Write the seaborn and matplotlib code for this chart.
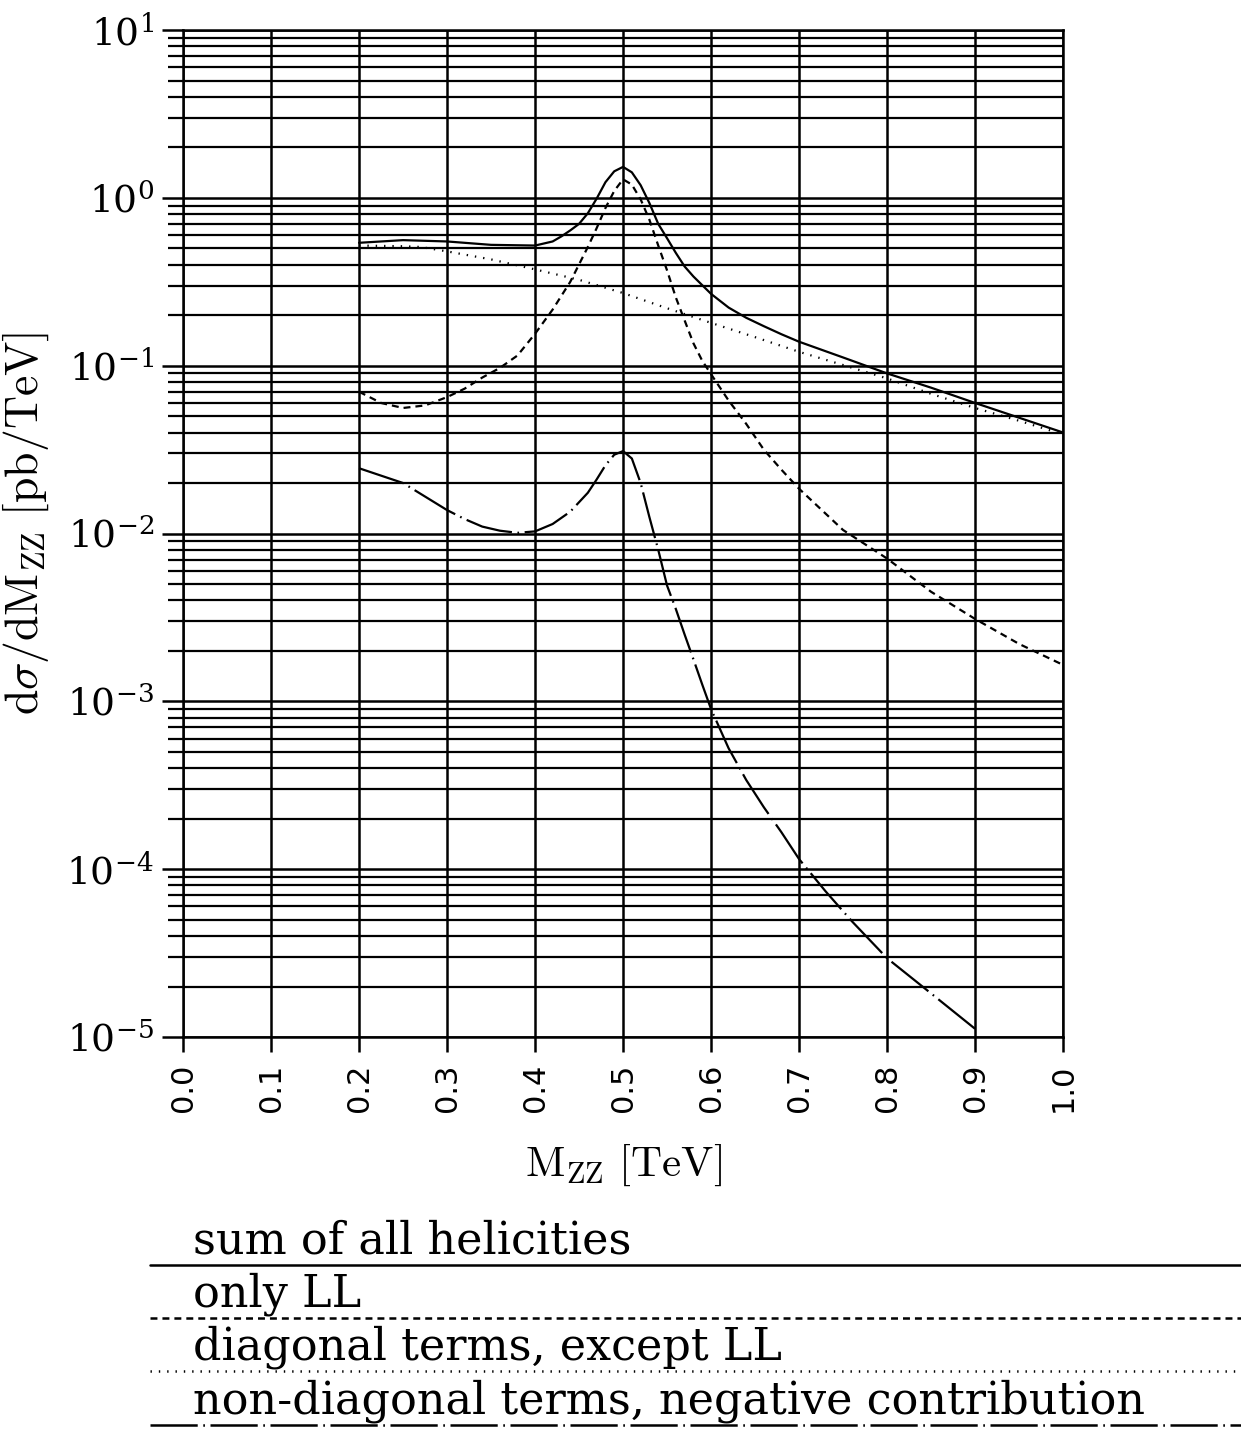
import numpy as np
import pandas as pd
import matplotlib
matplotlib.use("Agg")
import matplotlib.pyplot as plt
from matplotlib.lines import Line2D
from matplotlib.ticker import LogLocator, NullFormatter
import seaborn as sns

# ---------------- data ----------------
x_sum = [0.20, 0.25, 0.30, 0.35, 0.40, 0.42, 0.43, 0.44, 0.45, 0.46, 0.47, 0.48,
         0.49, 0.50, 0.51, 0.52, 0.53, 0.54, 0.55, 0.56, 0.57, 0.58, 0.60, 0.62,
         0.64, 0.66, 0.68, 0.70, 0.75, 0.80, 0.85, 0.90, 0.95, 1.00]
y_sum = [0.54, 0.56, 0.55, 0.525, 0.52, 0.55, 0.59, 0.64, 0.70, 0.81, 0.99, 1.24,
         1.44, 1.53, 1.42, 1.19, 0.93, 0.70, 0.575, 0.47, 0.39, 0.34, 0.268, 0.222,
         0.193, 0.172, 0.154, 0.139, 0.112, 0.090, 0.074, 0.060, 0.049, 0.040]

x_ll = [0.20, 0.225, 0.25, 0.275, 0.30, 0.32, 0.34, 0.36, 0.38, 0.40, 0.42, 0.44,
        0.46, 0.47, 0.48, 0.49, 0.50, 0.51, 0.52, 0.53, 0.54, 0.55, 0.56, 0.57,
        0.58, 0.59, 0.60, 0.62, 0.64, 0.66, 0.68, 0.70, 0.75, 0.80, 0.85, 0.90,
        0.95, 1.00]
y_ll = [0.070, 0.060, 0.056, 0.058, 0.065, 0.073, 0.085, 0.097, 0.115, 0.155, 0.216,
        0.316, 0.51, 0.66, 0.87, 1.10, 1.29, 1.20, 0.98, 0.74, 0.52, 0.37, 0.255,
        0.186, 0.136, 0.107, 0.089, 0.062, 0.045, 0.0316, 0.024, 0.0185, 0.0105,
        0.0071, 0.0045, 0.0031, 0.0022, 0.00165]

x_diag = [0.20, 0.25, 0.27, 0.30, 0.35, 0.40, 0.45, 0.50, 0.55, 0.60, 0.65, 0.70,
          0.75, 0.80, 0.85, 0.90, 0.95, 1.00]
y_diag = [0.52, 0.515, 0.51, 0.48, 0.43, 0.375, 0.325, 0.271, 0.22, 0.18, 0.148, 0.121,
          0.101, 0.084, 0.068, 0.056, 0.047, 0.039]

x_nd = [0.20, 0.25, 0.30, 0.32, 0.34, 0.36, 0.38, 0.40, 0.42, 0.44, 0.46, 0.47,
        0.48, 0.49, 0.50, 0.51, 0.52, 0.53, 0.54, 0.55, 0.56, 0.57, 0.58, 0.59,
        0.60, 0.62, 0.64, 0.66, 0.68, 0.70, 0.73, 0.76, 0.80, 0.85, 0.90]
y_nd = [0.0245, 0.020, 0.0138, 0.0122, 0.0110, 0.0104, 0.0101, 0.0103, 0.0114,
        0.0135, 0.0175, 0.021, 0.0255, 0.0295, 0.031, 0.028, 0.020, 0.0125, 0.0080,
        0.0049, 0.00355, 0.0025, 0.00178, 0.00126, 0.0009, 0.000525, 0.00034,
        0.000234, 0.000166, 0.000115, 7.4e-5, 4.9e-5, 2.95e-5, 1.82e-5, 1.12e-5]

labels = ["sum of all helicities", "only LL", "diagonal terms, except LL",
          "non-diagonal terms, negative contribution"]
xticks = [0.0, 0.1, 0.2, 0.3, 0.4, 0.5, 0.6, 0.7, 0.8, 0.9, 1.0]

# ---------------- style ----------------
sns.set_theme(style="ticks")
plt.rcParams["font.family"] = ["DejaVu Serif"]
plt.rcParams["mathtext.fontset"] = "cm"
plt.rcParams["lines.scale_dashes"] = False
for k in ["text.color", "axes.labelcolor", "xtick.color", "ytick.color",
          "axes.edgecolor"]:
    plt.rcParams[k] = "black"

styles = ["-", (0, (5, 3.6)), (0, (1.0, 5.0)), (0, (34, 4, 1.2, 4))]
series = [(x_sum, y_sum), (x_ll, y_ll), (x_diag, y_diag), (x_nd, y_nd)]

fig = plt.figure(figsize=(12.41, 14.31), dpi=100)
ax = fig.add_axes([0.1475, 0.2753, 0.7091, 0.7037])

for (xs, ys), ls, lab in zip(series, styles, labels):
    df = pd.DataFrame({"x": xs, "y": ys})
    sns.lineplot(data=df, x="x", y="y", ax=ax, color="black", linewidth=1.6,
                 linestyle=ls, estimator=None, sort=True)

ax.set_yscale("log")
ax.set_xlim(0, 1)
ax.set_ylim(1e-5, 10)

ax.set_xticks(xticks)
ax.set_xticklabels([f"{v:.1f}" for v in xticks], rotation=90,
                   family="DejaVu Sans", fontsize=22)
ax.yaxis.set_major_locator(LogLocator(base=10, numticks=10))
ax.yaxis.set_minor_locator(LogLocator(base=10, subs=np.arange(2, 10), numticks=100))
ax.yaxis.set_minor_formatter(NullFormatter())

ax.grid(True, which="major", axis="both", color="black", linewidth=1.8)
ax.grid(True, which="minor", axis="y", color="black", linewidth=1.6)
ax.set_axisbelow(True)

ax.tick_params(axis="y", which="major", direction="out", length=15, width=1.8,
               pad=6, color="black", labelsize=27)
ax.tick_params(axis="y", which="minor", direction="out", length=11, width=1.6,
               color="black")
ax.tick_params(axis="x", which="major", direction="out", length=11, width=1.8,
               pad=8, color="black")
for s in ax.spines.values():
    s.set_color("black")
    s.set_linewidth(1.8)

ax.set_xlabel(r"$\mathrm{M_{ZZ}\ [TeV]}$", fontsize=31)
ax.set_ylabel(r"$\mathrm{d}\sigma/\mathrm{dM_{ZZ}\ [pb/TeV]}$", fontsize=33)
ax.xaxis.set_label_coords(0.5, -0.105)
ax.yaxis.set_label_coords(-0.15, 0.51)

# ---------------- legend below the plot ----------------
line_y = [0.116, 0.079, 0.042, 0.0045]
text_y = [0.124, 0.087, 0.050, 0.0125]
for ly, ty, ls, lab in zip(line_y, text_y, styles, labels):
    fig.add_artist(Line2D([0.121, 1.0], [ly, ly], transform=fig.transFigure,
                          color="black", linewidth=1.8, linestyle=ls))
    fig.text(0.1555, ty, lab, fontsize=32, family="DejaVu Serif",
             ha="left", va="baseline", color="black")

fig.savefig("out.png", dpi=100, facecolor="white")
